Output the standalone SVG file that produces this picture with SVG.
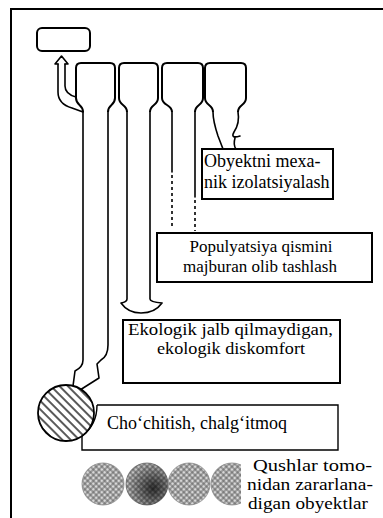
<svg xmlns="http://www.w3.org/2000/svg" width="383" height="518" viewBox="0 0 383 518">
<style>
.ln{fill:none;stroke:#000;stroke-width:1.6;stroke-linecap:round;stroke-linejoin:round}
.tk{fill:none;stroke:#000;stroke-width:2;stroke-linejoin:round}
.bx{fill:#fff;stroke:#000;stroke-width:2}
.ds{fill:none;stroke:#000;stroke-width:1.6;stroke-dasharray:3 3}
.tx{font-family:"Liberation Serif","Times New Roman",serif;font-size:18px;fill:#000}
</style>
<defs>
<pattern id="hatch" patternUnits="userSpaceOnUse" width="6" height="6" patternTransform="rotate(45)">
<rect width="6" height="6" fill="#fff"/>
<line x1="0" y1="3" x2="6" y2="3" stroke="#000" stroke-width="1.3"/>
</pattern>
<pattern id="xh" patternUnits="userSpaceOnUse" width="4" height="4" patternTransform="rotate(45)">
<rect width="4" height="4" fill="#d8d8d8"/>
<line x1="0" y1="2" x2="4" y2="2" stroke="#555" stroke-width="0.9"/>
<line x1="2" y1="0" x2="2" y2="4" stroke="#555" stroke-width="0.9"/>
</pattern>
<radialGradient id="dark" cx="0.65" cy="0.6" r="0.6">
<stop offset="0" stop-color="#000" stop-opacity="0.75"/>
<stop offset="1" stop-color="#000" stop-opacity="0.1"/>
</radialGradient>
<clipPath id="cut4"><rect x="200" y="450" width="41" height="60"/></clipPath>
</defs>

<g id="frame"><path d="M11,518 V9 H383" fill="none" stroke="#000" stroke-width="2"/></g>

<g id="top-node"><rect x="37" y="28" width="53" height="23" rx="5" class="tk"/></g>

<g id="tab1"><path class="tk" d="M83,112 C83,104 76,106 76,98 V68 Q76,63 81,63 H110 Q115,63 115,68 V98 C115,106 108,104 108,112"/></g>
<g id="tab2"><path class="tk" d="M127,112 C127,104 119,106 119,98 V68 Q119,63 124,63 H153 Q158,63 158,68 V98 C158,106 150,104 150,112"/></g>
<g id="tab3"><path class="tk" d="M172,112 C172,104 162,106 162,98 V68 Q162,63 167,63 H198 Q203,63 203,68 V98 C203,106 195,104 195,112"/></g>
<g id="tab4"><path class="tk" d="M213,112 C213,104 205,106 205,98 V68 Q205,63 210,63 H241 Q246,63 246,68 V98 C246,106 238,104 238,112"/></g>

<g id="connectors">
<path class="ln" d="M58,64 V92 Q58,104 72,108 L83,112"/>
<path class="ln" d="M65,64 V86 Q65,94 76,97"/>
<path class="ln" d="M58,64 H55 L61.5,56 L68,64 H65"/>
<path class="ln" d="M83,112 V360 Q83,367 75,371 L73,386"/>
<path class="ln" d="M108,112 V345 Q108,356 101,360 L97,364 L99,378 L80,390"/>
<path class="ln" d="M127,112 V299 Q127,302 121,303 Q128,313 141,313 Q155,313 162,303 Q150,302 150,299 V112"/>
<path class="ln" d="M172,112 V172"/>
<path class="ds" d="M172,175 V228"/>
<path class="ln" d="M195,112 V197"/>
<path class="ds" d="M195,200 V231"/>
<path class="ln" d="M213,112 C213,120 215,127 218,136 L223,149"/>
<path class="ln" d="M238,112 Q240,123 234,132 Q230,139 240,136 M235,138 Q233,145 236,149"/>
</g>

<g id="box1"><rect x="202" y="149" width="131" height="50" class="bx"/>
<text class="tx" x="204" y="167">Obyektni mexa-</text>
<text class="tx" x="204" y="188">nik izolatsiyalash</text></g>

<g id="box2"><rect x="157" y="233" width="215" height="49" class="bx"/>
<text class="tx" x="261" y="252" text-anchor="middle" style="font-size:17px">Populyatsiya qismini</text>
<text class="tx" x="260" y="272" text-anchor="middle" style="font-size:17px">majburan olib tashlash</text></g>

<g id="box3"><rect x="123" y="320" width="217" height="63" class="bx"/>
<text class="tx" x="128" y="335" style="font-size:17px" textLength="205" lengthAdjust="spacingAndGlyphs">Ekologik jalb qilmaydigan,</text>
<text class="tx" x="157" y="354" style="font-size:17px" textLength="148" lengthAdjust="spacingAndGlyphs">ekologik diskomfort</text></g>

<g id="box4">
<path d="M97,405 H338 V450 H82 V436 Q97,425 97,405" fill="#fff" stroke="#000" stroke-width="1.4"/>
<text class="tx" x="107" y="429">Cho‘chitish,  chalg‘itmoq</text></g>

<g id="target"><circle cx="66" cy="413" r="28" fill="url(#hatch)" stroke="#000" stroke-width="1.8"/></g>

<g id="objects">
<circle cx="103" cy="484" r="21" fill="url(#xh)" stroke="#888" stroke-width="0.8"/>
<circle cx="147" cy="484" r="21" fill="url(#xh)" stroke="#666" stroke-width="0.8"/>
<circle cx="147" cy="484" r="21" fill="url(#dark)"/>
<circle cx="189" cy="484" r="21" fill="url(#xh)" stroke="#888" stroke-width="0.8"/>
<circle cx="232" cy="484" r="21" fill="url(#xh)" stroke="#888" stroke-width="0.8" clip-path="url(#cut4)"/>
</g>

<g id="legend">
<text class="tx" x="253" y="471" style="font-size:16.5px" textLength="119" lengthAdjust="spacingAndGlyphs">Qushlar tomo-</text>
<text class="tx" x="247" y="490" style="font-size:16.5px" textLength="126" lengthAdjust="spacingAndGlyphs">nidan zararlana-</text>
<text class="tx" x="248" y="509" style="font-size:16.5px" textLength="120" lengthAdjust="spacingAndGlyphs">digan  obyektlar</text>
</g>
</svg>
